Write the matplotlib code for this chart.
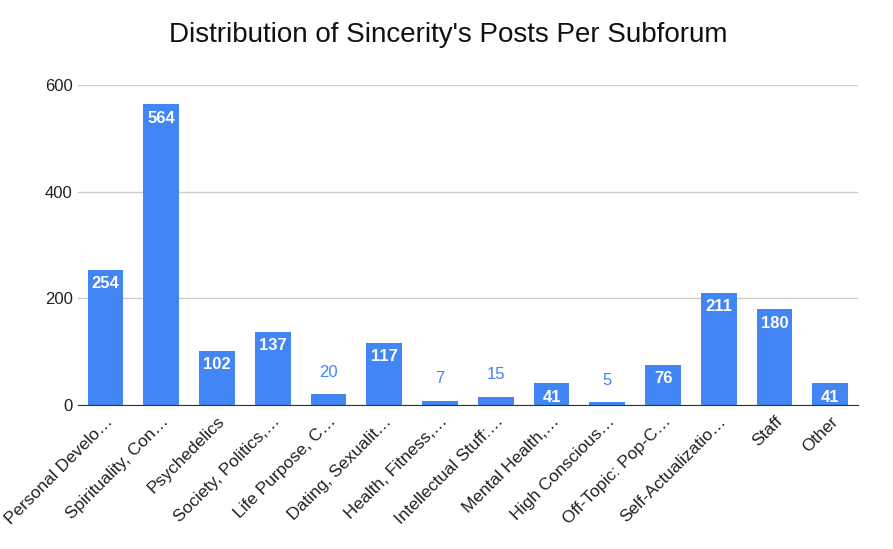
import matplotlib.pyplot as plt

plt.rcParams['font.family'] = 'Liberation Sans'

labels = ['Personal Develo…', 'Spirituality, Con…', 'Psychedelics', 'Society, Politics,…',
          'Life Purpose, C…', 'Dating, Sexualit…', 'Health, Fitness,…', 'Intellectual Stuff:…',
          'Mental Health,…', 'High Conscious…', 'Off-Topic: Pop-C…', 'Self-Actualizatio…',
          'Staff', 'Other']
posts = [254, 564, 102, 137, 20, 117, 7, 15, 41, 5, 76, 211, 180, 41]

blue = '#4285f4'
fig = plt.figure(figsize=(8.93, 5.49), dpi=100)
ax = fig.add_axes([0.087, 0.262, 0.874, 0.583])
x = range(len(posts))
ax.bar(x, posts, width=0.64, color=blue, zorder=2)
for i, v in zip(x, posts):
    if v >= 30:
        ax.text(i, v - 12, str(v), ha='center', va='top', color='white',
                fontsize=12, fontweight='bold')
    else:
        ax.text(i, v + 28, str(v), ha='center', va='bottom', color=blue, fontsize=12)

ax.set_xlim(-0.5, len(posts) - 0.5)
ax.set_ylim(0, 600)
ax.set_yticks([0, 200, 400, 600])
ax.yaxis.grid(True, color='#cccccc', lw=1, zorder=0)
ax.set_xticks(list(x))
ax.set_xticklabels(labels, rotation=45, ha='right', rotation_mode='anchor', fontsize=12.5)
ax.tick_params(axis='y', labelsize=12)
ax.tick_params(axis='both', length=0, colors='#222222')
ax.tick_params(axis='x', pad=6)
for s in ['top', 'right', 'left']:
    ax.spines[s].set_visible(False)
ax.spines['bottom'].set_color('#333333')
fig.suptitle("Distribution of Sincerity's Posts Per Subforum", x=0.502, y=0.96,
             fontsize=20, color='#111111')
fig.savefig('out.png')
